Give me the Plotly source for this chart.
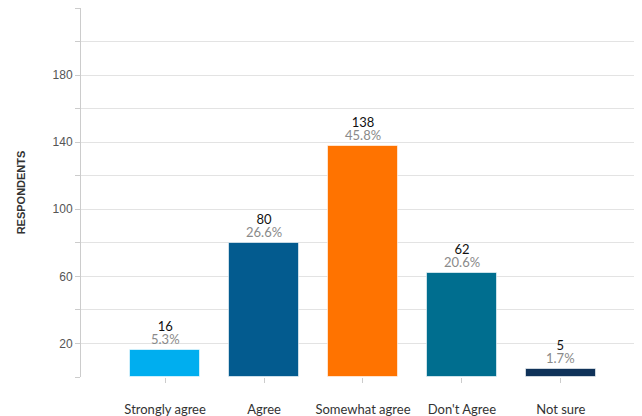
import plotly.graph_objects as go

categories = ["Strongly agree", "Agree", "Somewhat agree", "Don't Agree", "Not sure"]
counts = [16, 80, 138, 62, 5]
percents = ["5.3%", "26.6%", "45.8%", "20.6%", "1.7%"]
colors = ["#00AEEF", "#035B8F", "#FF7300", "#006E8F", "#0F3259"]
ytick_vals = list(range(0, 221, 20))
ytick_labels = ["" if v not in (20, 60, 100, 140, 180) else str(v) for v in ytick_vals]

fig = go.Figure()
fig.add_trace(go.Bar(
    x=list(range(len(categories))), y=counts,
    marker=dict(color=colors, line=dict(color="rgba(255,255,255,0.6)", width=1)),
    width=0.71, hoverinfo="skip",
))

annotations = []
for i, (c, p) in enumerate(zip(counts, percents)):
    annotations.append(dict(
        x=i, y=c, xref="x", yref="y",
        text=(f"<span style='font-size:13px;color:#111111'>{c}</span><br>"
              f"<span style='font-size:13px;color:#8a8a8a'>{p}</span>"),
        showarrow=False, yanchor="bottom", yshift=1,
        font=dict(family="Lato", size=10, color="#8a8a8a")))

# the page body adds an 8px offset, so the figure is sized to fill the rest
fig.update_layout(
    width=634, height=408,
    margin=dict(l=73, r=0, t=0, b=39),
    paper_bgcolor="white", plot_bgcolor="white",
    showlegend=False,
    annotations=annotations,
    bargap=0,
    xaxis=dict(
        range=[-0.85, 4.82], tickmode="array",
        tickvals=list(range(len(categories))), ticktext=categories,
        ticks="outside", ticklen=5, tickcolor="#cccccc",
        showgrid=False, showline=False, zeroline=False,
        ticklabelstandoff=15, automargin=False,
        tickfont=dict(family="Lato", size=13, color="#333333"),
    ),
    yaxis=dict(
        range=[0, 220], tickmode="array", tickvals=ytick_vals, ticktext=ytick_labels,
        ticks="outside", ticklen=5, tickcolor="#cccccc",
        showgrid=True, gridcolor="#e3e3e3", gridwidth=1,
        showline=True, linecolor="#cccccc", linewidth=1,
        zeroline=False, automargin=False,
        tickfont=dict(family="Liberation Sans", size=12, color="#555555"),
        title=dict(text="<b>RESPONDENTS</b>", standoff=24,
                   font=dict(family="Liberation Sans", size=11, color="#333333")),
    ),
)

fig.write_html("out.html")
